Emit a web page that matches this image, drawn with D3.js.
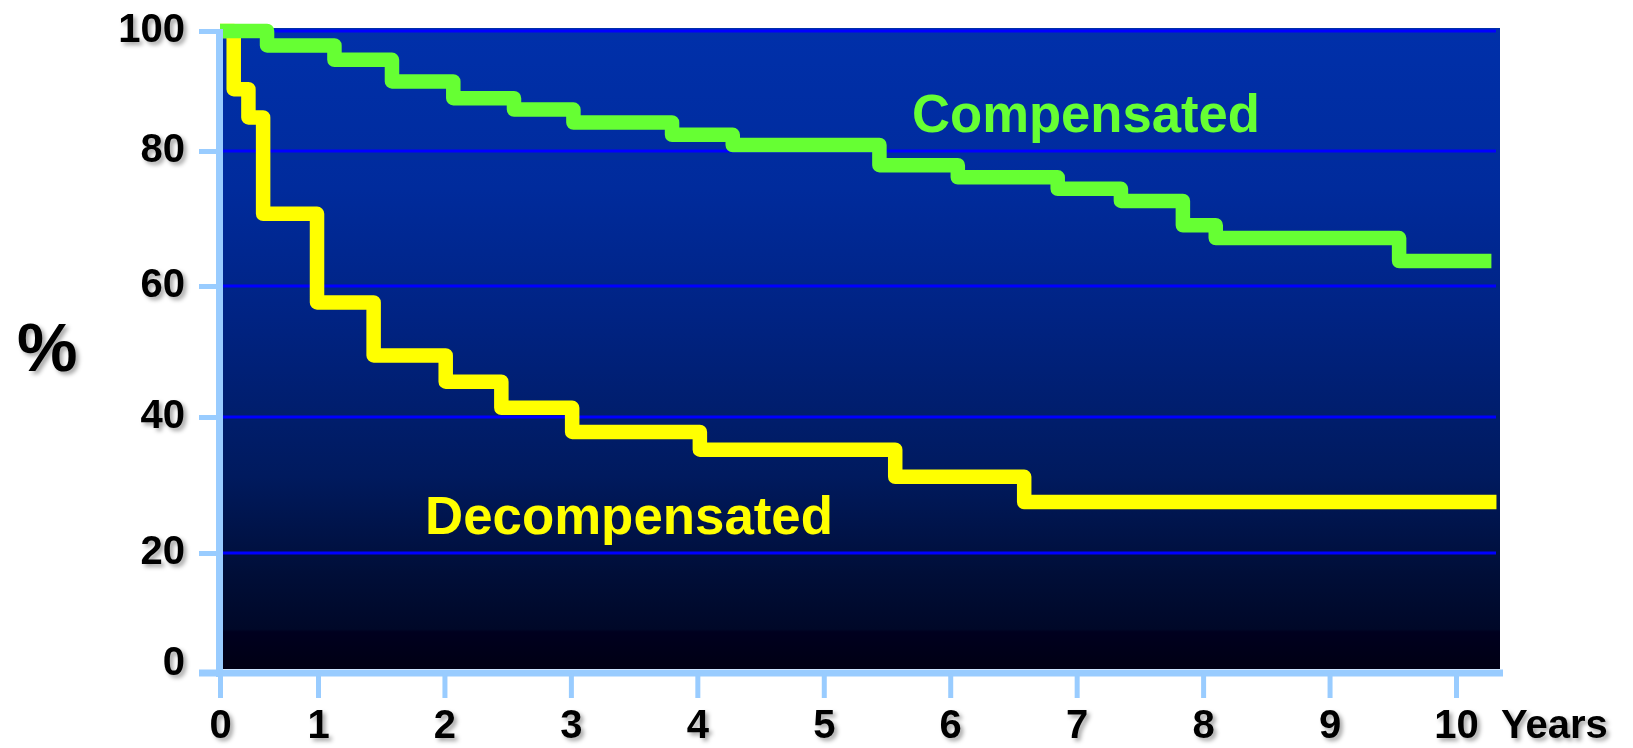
<!DOCTYPE html>
<html>
<head>
<meta charset="utf-8">
<script src="https://cdn.jsdelivr.net/npm/d3@7"></script>
<style>
  html, body { margin: 0; padding: 0; background: #ffffff; }
  svg { display: block; }
  text { font-family: "Liberation Sans", Arial, Helvetica, sans-serif; }
</style>
</head>
<body>
<svg id="chart" width="1633" height="748"></svg>
<script>
// ---------- data ----------
const yTickValues = [0, 20, 40, 60, 80, 100];
const xTickValues = [0, 1, 2, 3, 4, 5, 6, 7, 8, 9, 10];
const gridValues = [20, 40, 60, 80, 100];

const compensatedYears  = [0, 0.48, 1.13, 1.585, 2.07, 2.55, 3.02, 3.80, 4.28, 5.44, 6.06, 6.85, 7.35, 7.84, 8.10, 9.55, 10.28];
const compensatedValues = [100, 97.6, 95.2, 91.6, 88.8, 86.9, 84.75, 82.7, 81.0, 77.9, 76.1, 74.4, 72.6, 69.0, 67.1, 63.7, 63.7];

const decompensatedYears  = [0, 0.14, 0.29, 0.44, 0.99, 1.44, 2.01, 2.45, 3.01, 4.02, 5.565, 6.585, 10.32];
const decompensatedValues = [100, 90.3, 85.6, 70.7, 57.5, 49.4, 45.4, 41.4, 37.8, 35.2, 31.2, 27.5, 27.5];

const seriesNames = ["Compensated", "Decompensated"];
const xAxisTitle = "Years";
const yAxisTitle = "%";

// ---------- setup ----------
const svg = d3.select("#chart");

// scales (the slide's axes are drawn unevenly, so piecewise-linear scales follow its tick positions)
const x = d3.scaleLinear().domain([0, 1, 10]).range([220, 318, 1456]);
const y = d3.scaleLinear().domain([0, 20, 40, 60, 80, 100]).range([673, 553, 417, 286, 151, 31]);

const defs = svg.append("defs");
const grad = defs.append("linearGradient")
  .attr("id", "bg").attr("x1", 0).attr("y1", 0).attr("x2", 0).attr("y2", 1);
[
  [0, "#0030aa"], [0.25, "#002b9c"], [0.45, "#002383"], [0.7, "#001a5e"],
  [0.85, "#000e38"], [0.938, "#000828"], [0.942, "#00001f"], [1, "#000014"]
].forEach(([o, c]) => grad.append("stop").attr("offset", o).attr("stop-color", c));

const shadow = defs.append("filter").attr("id", "shadow")
  .attr("x", "-20%").attr("y", "-20%").attr("width", "150%").attr("height", "150%");
shadow.append("feDropShadow")
  .attr("dx", 3).attr("dy", 3).attr("stdDeviation", 2)
  .attr("flood-color", "#000").attr("flood-opacity", 0.35);

// plot background
svg.append("rect")
  .attr("x", 222).attr("y", 28)
  .attr("width", 1500 - 222).attr("height", 669 - 28)
  .attr("fill", "url(#bg)");

// gridlines
svg.append("g").selectAll("line").data(gridValues).join("line")
  .attr("x1", 223).attr("x2", 1496)
  .attr("y1", d => y(d)).attr("y2", d => y(d))
  .attr("stroke", "#0000ff").attr("stroke-width", 3);

// series
const line = d3.line()
  .x(d => x(d[0])).y(d => y(d[1]))
  .curve(d3.curveStepAfter);

const decompData = d3.zip(decompensatedYears, decompensatedValues);
const compData = d3.zip(compensatedYears, compensatedValues);

svg.append("path")
  .datum(decompData)
  .attr("d", line)
  .attr("fill", "none")
  .attr("stroke", "#ffff00")
  .attr("stroke-width", 14.5)
  .attr("stroke-linejoin", "round")
  .attr("stroke-linecap", "butt");

svg.append("path")
  .datum(compData)
  .attr("d", line)
  .attr("fill", "none")
  .attr("stroke", "#66ff33")
  .attr("stroke-width", 14.5)
  .attr("stroke-linejoin", "round")
  .attr("stroke-linecap", "butt");

// series labels
svg.append("text")
  .attr("x", 912).attr("y", 132)
  .attr("font-size", 53).attr("font-weight", "bold")
  .attr("fill", "#66ff33")
  .attr("textLength", 348).attr("lengthAdjust", "spacingAndGlyphs")
  .text(seriesNames[0]);

svg.append("text")
  .attr("x", 425).attr("y", 534)
  .attr("font-size", 53).attr("font-weight", "bold")
  .attr("fill", "#ffff00")
  .attr("textLength", 408).attr("lengthAdjust", "spacingAndGlyphs")
  .text(seriesNames[1]);

// axes lines
const axisColor = "#99ccff";
svg.append("line")
  .attr("x1", 219.5).attr("x2", 219.5).attr("y1", 29).attr("y2", 677)
  .attr("stroke", axisColor).attr("stroke-width", 7);
svg.append("line")
  .attr("x1", 199).attr("x2", 1503).attr("y1", 673).attr("y2", 673)
  .attr("stroke", axisColor).attr("stroke-width", 7);

// y axis ticks + labels via d3.axisLeft
const yAxis = d3.axisLeft(y).tickValues(yTickValues).tickSize(18).tickSizeOuter(0).tickPadding(16);
const gy = svg.append("g").attr("transform", "translate(217,0)").call(yAxis);
gy.select(".domain").remove();
gy.selectAll(".tick line").attr("stroke", axisColor).attr("stroke-width", 5);
gy.selectAll(".tick text")
  .attr("fill", "#000").attr("font-size", 40).attr("font-weight", "bold")
  .attr("font-family", "'Liberation Sans', Arial, Helvetica, sans-serif")
  .attr("dy", "0.3em")
  .attr("x", -32)
  .attr("y", d => d === 0 ? -11 : -2)
  .attr("filter", "url(#shadow)");

// x axis ticks + labels via d3.axisBottom
const xAxis = d3.axisBottom(x).tickValues(xTickValues).tickSize(25).tickSizeOuter(0).tickFormat(d3.format("d"));
const gx = svg.append("g").attr("transform", "translate(0,673)").call(xAxis);
gx.select(".domain").remove();
gx.selectAll(".tick line").attr("stroke", axisColor).attr("stroke-width", 5);
gx.selectAll(".tick text")
  .attr("fill", "#000").attr("font-size", 40).attr("font-weight", "bold")
  .attr("font-family", "'Liberation Sans', Arial, Helvetica, sans-serif")
  .attr("y", 65).attr("dy", 0)
  .attr("filter", "url(#shadow)");

// axis titles
svg.append("text")
  .attr("x", 1501).attr("y", 738)
  .attr("font-size", 40).attr("font-weight", "bold")
  .attr("fill", "#000")
  .attr("filter", "url(#shadow)")
  .text(xAxisTitle);

svg.append("text")
  .attr("x", 17).attr("y", 371)
  .attr("font-size", 68).attr("font-weight", "bold")
  .attr("fill", "#000")
  .attr("filter", "url(#shadow)")
  .text(yAxisTitle);
</script>
</body>
</html>
